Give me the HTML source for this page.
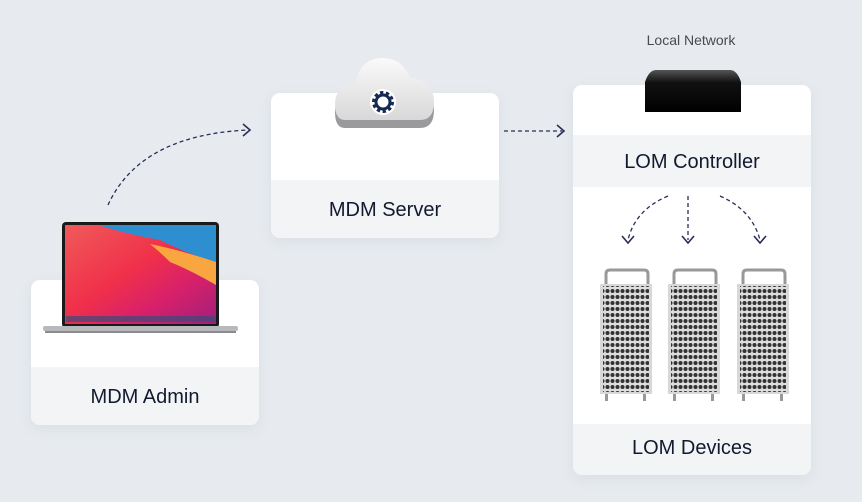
<!DOCTYPE html>
<html><head><meta charset="utf-8"><style>
html,body{margin:0;padding:0}
body{width:862px;height:502px;background:#e7ebef;position:relative;overflow:hidden;font-family:"Liberation Sans",sans-serif;color:#111a2e}
.card{position:absolute;background:#fff;border-radius:9px;overflow:hidden;box-shadow:0 4px 14px rgba(80,90,110,.08)}
.band{position:absolute;left:0;right:0;background:#f3f4f6;text-align:center;font-size:20px;font-weight:500}
svg{position:absolute;left:0;top:0}
</style></head><body>
<div class="card" style="left:31px;top:280px;width:228px;height:145px"><div class="band" style="top:87px;height:58px;line-height:60px">MDM Admin</div></div>
<div class="card" style="left:271px;top:93px;width:228px;height:145px"><div class="band" style="top:87px;height:58px;line-height:60px">MDM Server</div></div>
<div class="card" style="left:573px;top:85px;width:238px;height:390px">
<div class="band" style="top:50px;height:52px;line-height:54px">LOM Controller</div>
<div class="band" style="top:339px;height:51px;line-height:48px">LOM Devices</div></div>
<div style="position:absolute;left:591px;top:32px;width:200px;text-align:center;font-size:14px;color:#4a4a4a">Local Network</div>
<svg width="862" height="502" viewBox="0 0 862 502">
<defs>
<linearGradient id="scr" x1="0" y1="0" x2="1" y2="1">
<stop offset="0" stop-color="#f05a5a"/><stop offset=".45" stop-color="#f0304a"/><stop offset=".7" stop-color="#d8206a"/><stop offset="1" stop-color="#a0207a"/></linearGradient>
<linearGradient id="cl" x1="0" y1="0" x2="0" y2="1"><stop offset="0" stop-color="#fafafa"/><stop offset="1" stop-color="#d8d8d8"/></linearGradient>
<pattern id="holes" width="5" height="6" patternUnits="userSpaceOnUse"><rect width="5" height="6" fill="#ddd"/><circle cx="2.5" cy="3" r="2" fill="#333"/></pattern>
<linearGradient id="tv" x1="0" y1="0" x2="0" y2="1"><stop offset="0" stop-color="#555"/><stop offset=".3" stop-color="#111"/><stop offset="1" stop-color="#000"/></linearGradient>
</defs>
<g fill="none" stroke="#2a2d55" stroke-width="1.3" stroke-dasharray="4 3">
<path d="M108 205 Q140 135 248 130"/>
<path d="M504 131 L562 131"/>
<path d="M668 196 Q635 210 628 240"/>
<path d="M688 196 L688 240"/>
<path d="M720 196 Q752 210 760 240"/>
</g>
<g fill="none" stroke="#2a2d55" stroke-width="1.6">
<path d="M243 124 L250 130 L243 136"/>
<path d="M557 125 L564 131 L557 137"/>
<path d="M622 236 L628 243 L634 236"/>
<path d="M682 236 L688 243 L694 236"/>
<path d="M754 236 L760 243 L766 236"/>
</g>
<rect x="62" y="222" width="157" height="106" rx="4" fill="#1a1a1a"/>
<rect x="65" y="225" width="151" height="99" fill="url(#scr)"/>
<path d="M98 225 L216 225 L216 262 Q190 255 160 240 Q130 235 98 225Z" fill="#2e8fd0"/>
<path d="M150 244 Q180 250 216 262 L216 285 Q190 270 170 262 Q160 252 150 244Z" fill="#f9a640"/>
<rect x="66" y="316" width="149" height="6" fill="#3a4a7a" opacity=".7"/>
<rect x="43" y="326" width="195" height="5" rx="2" fill="#b8b9bc"/>
<rect x="45" y="331" width="191" height="2" fill="#8a8b8e"/>
<path d="M345 128 Q335 128 335 112 Q335 92 355 90 Q360 64 383 62 Q402 62 410 85 Q434 88 434 110 Q434 128 420 128Z" fill="#9a9a9c"/>
<path d="M345 120 Q335 120 335 104 Q335 86 355 84 Q360 58 383 58 Q402 58 410 78 Q434 80 434 102 Q434 120 420 120Z" fill="url(#cl)"/>
<circle cx="383" cy="102" r="13" fill="#fff"/>
<circle cx="383" cy="102" r="8.5" fill="none" stroke="#142a55" stroke-width="5" stroke-dasharray="3 2.3"/>
<circle cx="383" cy="102" r="7" fill="none" stroke="#142a55" stroke-width="3"/>
<path d="M656 70 L730 70 Q737 70 741 82 L741 112 L645 112 L645 82 Q649 70 656 70Z" fill="url(#tv)"/>
<g id="mp">
<path d="M606 286 L606 274 Q606 270 610 270 L644 270 Q648 270 648 274 L648 286" fill="none" stroke="#999" stroke-width="3"/>
<rect x="600" y="284" width="52" height="110" fill="#d8d8d8"/>
<rect x="603" y="286" width="46" height="106" fill="url(#holes)"/>
<rect x="605" y="394" width="3" height="7" fill="#999"/><rect x="643" y="394" width="3" height="7" fill="#999"/>
</g>
<use href="#mp" x="68"/>
<use href="#mp" x="137"/>
</svg>
</body></html>
